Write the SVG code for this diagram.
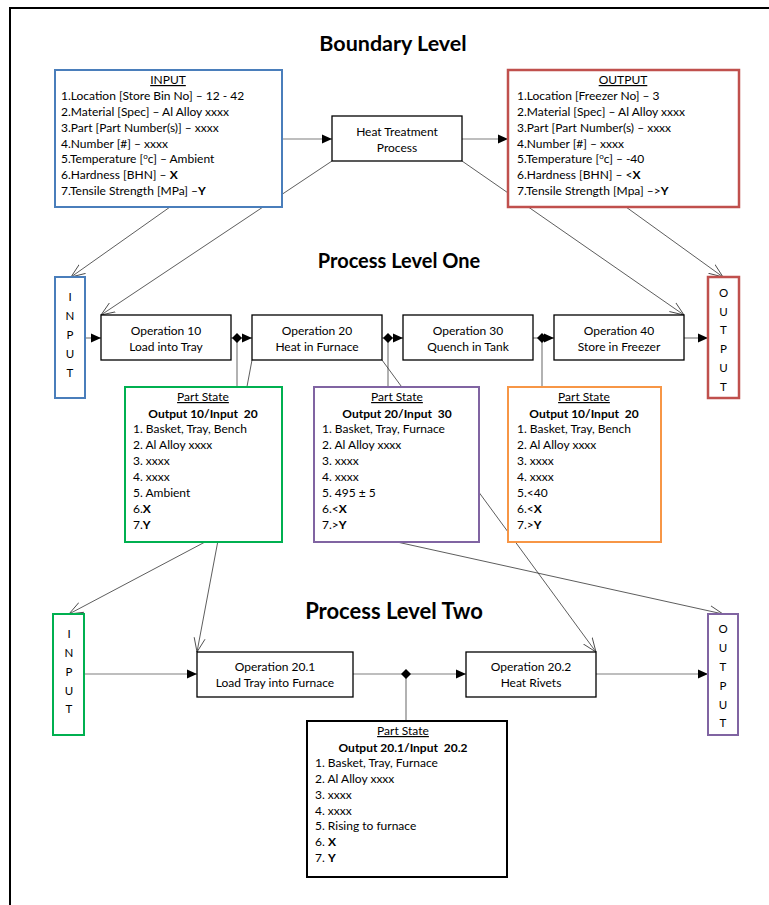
<svg xmlns="http://www.w3.org/2000/svg" width="769" height="905" viewBox="0 0 769 905">
  <defs>
    <style>
      text { font-family: Lato, "Liberation Sans", sans-serif; fill: #000; }
      .t { font-size: 12px; }
      .c { text-anchor: middle; }
      .b { font-weight: bold; }
      .title { font-size: 20px; font-weight: bold; text-anchor: middle; }
      .u { text-decoration: underline; }
      .v { font-size: 11.5px; text-anchor: middle; }
      .op { fill: #fff; stroke: #000; stroke-width: 1.3; }
      .blue { fill: #fff; stroke: #4a7ebb; stroke-width: 2; }
      .red { fill: #fff; stroke: #c0504d; stroke-width: 2.5; }
      .green { fill: #fff; stroke: #00b050; stroke-width: 2; }
      .purple { fill: #fff; stroke: #8064a2; stroke-width: 2; }
      .orange { fill: #fff; stroke: #f79646; stroke-width: 2; }
      .black { fill: #fff; stroke: #000; stroke-width: 2; }
      .flow { fill: none; stroke: #7f7f7f; stroke-width: 1.2; marker-end: url(#tri); }
      .link { fill: none; stroke: #7f7f7f; stroke-width: 1.2; }
      .zoom { fill: none; stroke: #333; stroke-width: 0.8; marker-end: url(#vee); }
      .dia { fill: #000; }
    </style>
    <marker id="tri" markerUnits="userSpaceOnUse" markerWidth="10" markerHeight="10" refX="10" refY="5" orient="auto">
      <path d="M0,0.5 L10,5 L0,9.5 z" fill="#000"/>
    </marker>
    <marker id="vee" markerUnits="userSpaceOnUse" markerWidth="16" markerHeight="14" refX="14" refY="7" orient="auto">
      <path d="M0,1.5 L14,7 L0,12.5" fill="none" stroke="#333" stroke-width="0.8"/>
    </marker>
  </defs>

  <rect x="0" y="0" width="769" height="905" fill="#fff"/>
  <!-- page frame -->
  <path d="M10,920 L10,8 L780,8" fill="none" stroke="#000" stroke-width="2"/>

  <!-- level titles -->
  <text class="title" x="393" y="51" style="font-size:21.5px">Boundary Level</text>
  <text class="title" x="399" y="268">Process Level One</text>
  <text class="title" x="394" y="619" style="font-size:22px">Process Level Two</text>

  <g id="connectors">
    <!-- boundary level flow -->
    <line class="flow" x1="282" y1="139" x2="332" y2="139"/>
    <line class="flow" x1="462" y1="139" x2="508" y2="139"/>
    <!-- boundary to level one -->
    <line class="zoom" x1="170" y1="207" x2="71" y2="277"/>
    <line class="zoom" x1="332" y1="161" x2="101" y2="315"/>
    <line class="zoom" x1="462" y1="161" x2="684" y2="315"/>
    <line class="zoom" x1="626" y1="207" x2="723" y2="277"/>
    <!-- level one flow -->
    <line class="flow" x1="85" y1="338" x2="101" y2="338"/>
    <line class="flow" x1="231" y1="338" x2="252" y2="338"/>
    <line class="flow" x1="382" y1="338" x2="403" y2="338"/>
    <line class="flow" x1="533" y1="338" x2="554" y2="338"/>
    <line class="flow" x1="684" y1="338" x2="708" y2="338"/>
    <line class="link" x1="237" y1="338" x2="237" y2="387"/>
    <line class="link" x1="388" y1="338" x2="388" y2="387"/>
    <line class="link" x1="542" y1="338" x2="542" y2="387"/>
    <polygon class="dia" points="232,338 237,333 242,338 237,343"/>
    <polygon class="dia" points="383,338 388,333 393,338 388,343"/>
    <polygon class="dia" points="537,338 542,333 547,338 542,343"/>
    <!-- level one to level two -->
    <line class="zoom" x1="205" y1="542" x2="69" y2="614"/>
    <line class="zoom" x1="252" y1="360" x2="197" y2="652"/>
    <line class="zoom" x1="382" y1="360" x2="596" y2="652"/>
    <line class="zoom" x1="397" y1="542" x2="723" y2="614"/>
    <!-- level two flow -->
    <line class="flow" x1="84" y1="674" x2="197" y2="674"/>
    <line class="flow" x1="353" y1="674" x2="466" y2="674"/>
    <line class="flow" x1="596" y1="674" x2="708" y2="674"/>
    <line class="link" x1="406" y1="674" x2="406" y2="721"/>
    <polygon class="dia" points="401,674 406,669 411,674 406,679"/>
  </g>

  <!-- boundary level -->
  <g id="boundary-input">
    <rect class="blue" x="55" y="70" width="227" height="137"/>
    <text class="t c u" x="168" y="84">INPUT</text>
    <text class="t" x="61" y="100">1.Location [Store Bin No] – 12 - 42</text>
    <text class="t" x="61" y="116">2.Material [Spec] – Al Alloy xxxx</text>
    <text class="t" x="61" y="131.5">3.Part [Part Number(s)] – xxxx</text>
    <text class="t" x="61" y="147.5">4.Number [#] – xxxx</text>
    <text class="t" x="61" y="163">5.Temperature [<tspan font-size="8" dy="-4">o</tspan><tspan dy="4">c] – Ambient</tspan></text>
    <text class="t" x="61" y="179">6.Hardness [BHN] – <tspan class="b">X</tspan></text>
    <text class="t" x="61" y="195">7.Tensile Strength [MPa] –<tspan class="b">Y</tspan></text>
  </g>

  <g id="heat-treatment">
    <rect class="op" x="332" y="116" width="130" height="45"/>
    <text class="t c" x="397" y="136">Heat Treatment</text>
    <text class="t c" x="397" y="152">Process</text>
  </g>

  <g id="boundary-output">
    <rect class="red" x="508" y="70" width="231" height="137"/>
    <text class="t c u" x="623" y="84">OUTPUT</text>
    <text class="t" x="517" y="100">1.Location [Freezer No] – 3</text>
    <text class="t" x="517" y="116">2.Material [Spec] – Al Alloy xxxx</text>
    <text class="t" x="517" y="131.5">3.Part [Part Number(s) – xxxx</text>
    <text class="t" x="517" y="147.5">4.Number [#] – xxxx</text>
    <text class="t" x="517" y="163">5.Temperature [<tspan font-size="8" dy="-4">o</tspan><tspan dy="4">c] – -40</tspan></text>
    <text class="t" x="517" y="179">6.Hardness [BHN] – &lt;<tspan class="b">X</tspan></text>
    <text class="t" x="517" y="195">7.Tensile Strength [Mpa] –&gt;<tspan class="b">Y</tspan></text>
  </g>

  <!-- process level one -->
  <g id="l1-input">
    <rect class="blue" x="55" y="277" width="30" height="121"/>
    <text class="v" x="70" y="301">I</text>
    <text class="v" x="70" y="320">N</text>
    <text class="v" x="70" y="339">P</text>
    <text class="v" x="70" y="358">U</text>
    <text class="v" x="70" y="377">T</text>
  </g>

  <g id="op10">
    <rect class="op" x="101" y="315" width="130" height="45"/>
    <text class="t c" x="166" y="335">Operation 10</text>
    <text class="t c" x="166" y="351">Load into Tray</text>
  </g>

  <g id="op20">
    <rect class="op" x="252" y="315" width="130" height="45"/>
    <text class="t c" x="317" y="335">Operation 20</text>
    <text class="t c" x="317" y="351">Heat in Furnace</text>
  </g>

  <g id="op30">
    <rect class="op" x="403" y="315" width="130" height="45"/>
    <text class="t c" x="468" y="335">Operation 30</text>
    <text class="t c" x="468" y="351">Quench in Tank</text>
  </g>

  <g id="op40">
    <rect class="op" x="554" y="315" width="130" height="45"/>
    <text class="t c" x="619" y="335">Operation 40</text>
    <text class="t c" x="619" y="351">Store in Freezer</text>
  </g>

  <g id="l1-output">
    <rect class="red" x="708" y="277" width="31" height="121"/>
    <text class="v" x="723.5" y="297">O</text>
    <text class="v" x="723.5" y="316">U</text>
    <text class="v" x="723.5" y="334">T</text>
    <text class="v" x="723.5" y="353">P</text>
    <text class="v" x="723.5" y="372">U</text>
    <text class="v" x="723.5" y="391">T</text>
  </g>

  <g id="state-10-20">
    <rect class="green" x="125" y="387" width="157" height="155"/>
    <text class="t c u" x="203" y="401">Part State</text>
    <text class="t c b" x="203" y="418">Output 10/Input&#160; 20</text>
    <text class="t" x="133" y="433">1. Basket, Tray, Bench</text>
    <text class="t" x="133" y="449">2. Al Alloy xxxx</text>
    <text class="t" x="133" y="465">3. xxxx</text>
    <text class="t" x="133" y="481">4. xxxx</text>
    <text class="t" x="133" y="497">5. Ambient</text>
    <text class="t" x="133" y="513">6.<tspan class="b">X</tspan></text>
    <text class="t" x="133" y="529">7.<tspan class="b">Y</tspan></text>
  </g>

  <g id="state-20-30">
    <rect class="purple" x="314" y="387" width="165" height="155"/>
    <text class="t c u" x="397" y="401">Part State</text>
    <text class="t c b" x="397" y="418">Output 20/Input&#160; 30</text>
    <text class="t" x="322" y="433">1. Basket, Tray, Furnace</text>
    <text class="t" x="322" y="449">2. Al Alloy xxxx</text>
    <text class="t" x="322" y="465">3. xxxx</text>
    <text class="t" x="322" y="481">4. xxxx</text>
    <text class="t" x="322" y="497">5. 495 ± 5</text>
    <text class="t" x="322" y="513">6.&lt;<tspan class="b">X</tspan></text>
    <text class="t" x="322" y="529">7.&gt;<tspan class="b">Y</tspan></text>
  </g>

  <g id="state-30-40">
    <rect class="orange" x="508" y="387" width="153" height="155"/>
    <text class="t c u" x="584" y="401">Part State</text>
    <text class="t c b" x="584" y="418">Output 10/Input&#160; 20</text>
    <text class="t" x="517" y="433">1. Basket, Tray, Bench</text>
    <text class="t" x="517" y="449">2. Al Alloy xxxx</text>
    <text class="t" x="517" y="465">3. xxxx</text>
    <text class="t" x="517" y="481">4. xxxx</text>
    <text class="t" x="517" y="497">5.&lt;40</text>
    <text class="t" x="517" y="513">6.&lt;<tspan class="b">X</tspan></text>
    <text class="t" x="517" y="529">7.&gt;<tspan class="b">Y</tspan></text>
  </g>

  <!-- process level two -->
  <g id="l2-input">
    <rect class="green" x="53" y="614" width="31" height="121"/>
    <text class="v" x="69" y="638">I</text>
    <text class="v" x="69" y="657">N</text>
    <text class="v" x="69" y="676">P</text>
    <text class="v" x="69" y="695">U</text>
    <text class="v" x="69" y="713">T</text>
  </g>

  <g id="op20-1">
    <rect class="op" x="197" y="652" width="156" height="45"/>
    <text class="t c" x="275" y="671">Operation 20.1</text>
    <text class="t c" x="275" y="687">Load Tray into Furnace</text>
  </g>

  <g id="op20-2">
    <rect class="op" x="466" y="652" width="130" height="45"/>
    <text class="t c" x="531" y="671">Operation 20.2</text>
    <text class="t c" x="531" y="687">Heat Rivets</text>
  </g>

  <g id="l2-output">
    <rect class="purple" x="708" y="614" width="30" height="121"/>
    <text class="v" x="723" y="633">O</text>
    <text class="v" x="723" y="652">U</text>
    <text class="v" x="723" y="671">T</text>
    <text class="v" x="723" y="690">P</text>
    <text class="v" x="723" y="709">U</text>
    <text class="v" x="723" y="727">T</text>
  </g>

  <g id="state-20-1-20-2">
    <rect class="black" x="307" y="721" width="200" height="156"/>
    <text class="t c u" x="403" y="735">Part State</text>
    <text class="t c b" x="403" y="752">Output 20.1/Input&#160; 20.2</text>
    <text class="t" x="315" y="767">1. Basket, Tray, Furnace</text>
    <text class="t" x="315" y="783">2. Al Alloy xxxx</text>
    <text class="t" x="315" y="799">3. xxxx</text>
    <text class="t" x="315" y="815">4. xxxx</text>
    <text class="t" x="315" y="830">5. Rising to furnace</text>
    <text class="t" x="315" y="846">6. <tspan class="b">X</tspan></text>
    <text class="t" x="315" y="862">7. <tspan class="b">Y</tspan></text>
  </g>
</svg>
